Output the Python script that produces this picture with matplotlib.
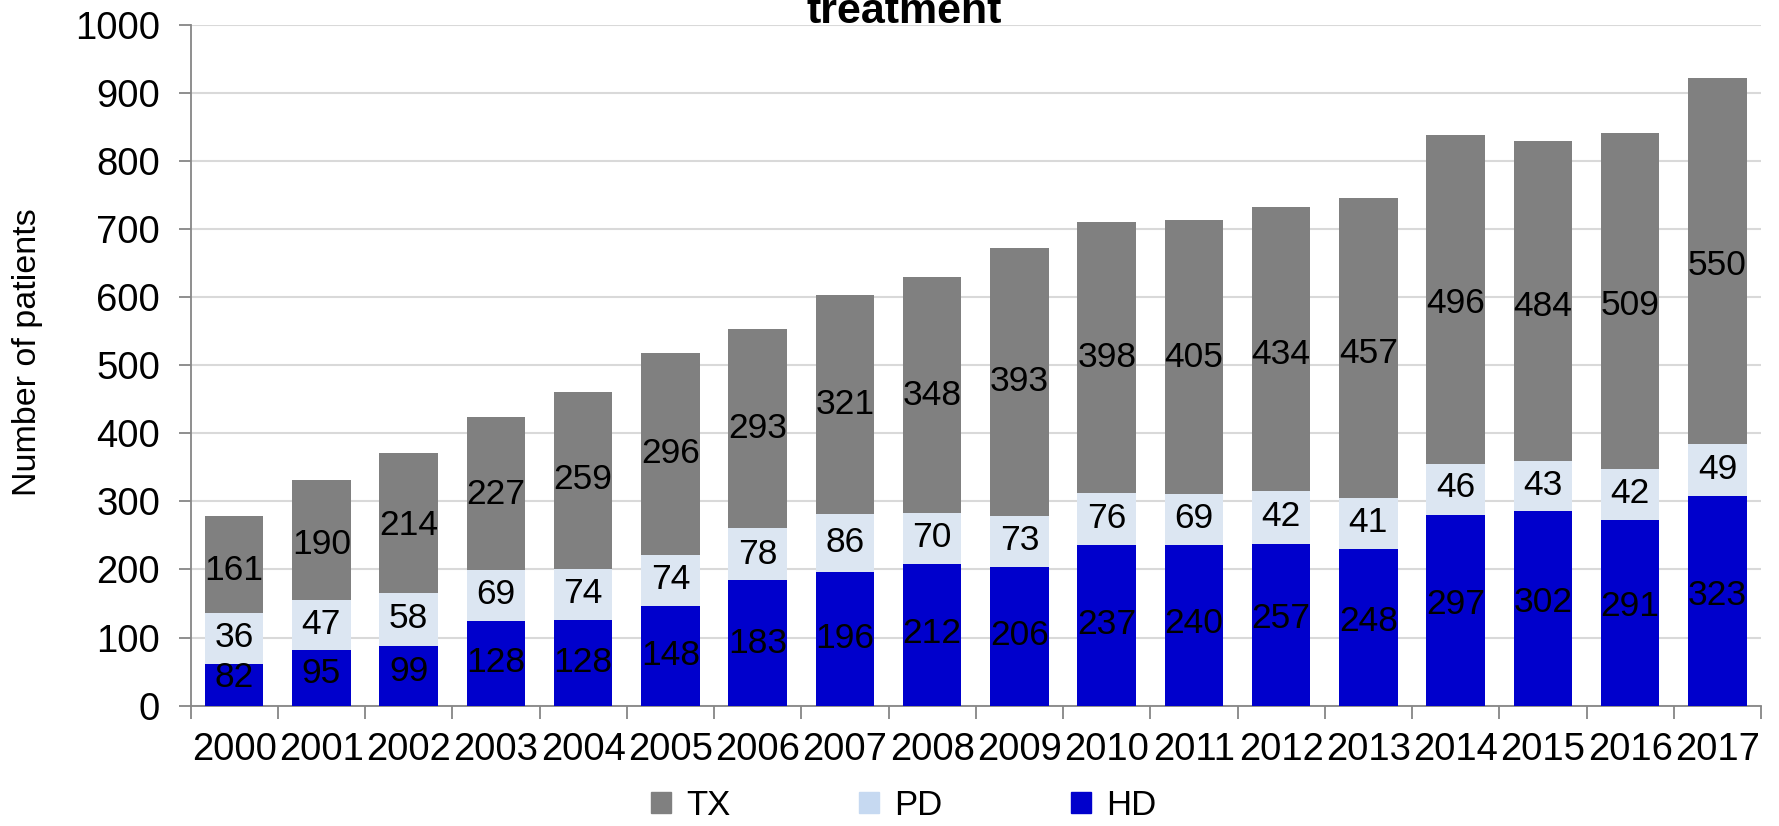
import numpy as np
import matplotlib
matplotlib.use('Agg')
import matplotlib.pyplot as plt
from matplotlib.patches import Patch

plt.rcParams['font.family'] = ['Liberation Sans', 'DejaVu Sans']

years = ['2000', '2001', '2002', '2003', '2004', '2005', '2006', '2007', '2008',
         '2009', '2010', '2011', '2012', '2013', '2014', '2015', '2016', '2017']

# printed values
hd_lab = [82, 95, 99, 128, 128, 148, 183, 196, 212, 206, 237, 240, 257, 248, 297, 302, 291, 323]
pd_lab = [36, 47, 58, 69, 74, 74, 78, 86, 70, 73, 76, 69, 42, 41, 46, 43, 42, 49]
tx_lab = [161, 190, 214, 227, 259, 296, 293, 321, 348, 393, 398, 405, 434, 457, 496, 484, 509, 550]

# segment heights as drawn in the picture (PD segments are drawn with a minimum height)
hd_bar = [61, 81, 88, 124, 126, 146, 184, 196, 208, 203, 236, 235.5, 238, 230, 280.5, 285.5, 273, 308.5]
pd_bar = [74.5, 74, 78, 74.5, 75, 75, 77, 85, 75.5, 75.5, 77, 75.5, 78, 75, 75, 74.5, 75, 75.5]
tx_bar = [143.5, 177, 205, 225.5, 260, 297, 293, 322, 346.5, 393.5, 398, 403, 417, 441, 483.5, 469, 494, 538]

c_hd = '#0000CC'
c_pd = '#DCE6F2'
c_tx = '#808080'

fig = plt.figure(figsize=(17.79, 8.26), dpi=100)
ax = fig.add_axes([0.1071, 0.1458, 0.8828, 0.8239])

x = np.arange(len(years))
w = 0.67
hd_bar = np.array(hd_bar)
pd_bar = np.array(pd_bar)
tx_bar = np.array(tx_bar)
ax.bar(x, hd_bar, w, color=c_hd, zorder=3)
ax.bar(x, pd_bar, w, bottom=hd_bar, color=c_pd, zorder=3)
ax.bar(x, tx_bar, w, bottom=hd_bar + pd_bar, color=c_tx, zorder=3)

# labels sit at the middle of the true-value segments
hd_l = np.array(hd_lab)
pd_l = np.array(pd_lab)
tx_l = np.array(tx_lab)
for i in range(len(years)):
    ax.text(x[i], hd_l[i] / 2, str(hd_l[i]), ha='center', va='center', fontsize=25.5, zorder=4)
    ax.text(x[i], hd_l[i] + pd_l[i] / 2, str(pd_l[i]), ha='center', va='center', fontsize=25.5, zorder=4)
    ax.text(x[i], hd_l[i] + pd_l[i] + tx_l[i] / 2, str(tx_l[i]), ha='center', va='center', fontsize=25.5, zorder=4)

ax.set_xlim(-0.5, len(years) - 0.5)
ax.set_ylim(0, 1000)
ax.set_yticks(np.arange(0, 1001, 100))
ax.yaxis.grid(True, color='#D9D9D9', linewidth=1.5, zorder=0)
ax.set_axisbelow(True)

ax.set_xticks(np.arange(-0.5, len(years), 1.0))
ax.set_xticklabels([])
ax.set_xticks(x, minor=True)
ax.set_xticklabels(years, minor=True)
ax.tick_params(axis='x', which='major', length=9, color='#868686', width=1.3)
ax.tick_params(axis='x', which='minor', length=0, pad=19, labelsize=27.5)
ax.tick_params(axis='y', length=9, color='#868686', width=1.3, pad=13, labelsize=27.5)

for s in ['top', 'right']:
    ax.spines[s].set_visible(False)
for s in ['left', 'bottom']:
    ax.spines[s].set_color('#868686')
    ax.spines[s].set_linewidth(1.3)

fig.text(0.0157, 0.574, 'Number of patients', rotation=90, ha='center', va='center', fontsize=24.5)
fig.text(0.508, 0.9725, 'treatment', ha='center', va='baseline', fontsize=31, fontweight='bold')

handles = [Patch(color=c_tx, label='TX'), Patch(color='#C6D9F1', label='PD'), Patch(color=c_hd, label='HD')]
fig.legend(handles=handles, loc='center', bbox_to_anchor=(0.508, 0.025), ncol=3, frameon=False,
           fontsize=25, handlelength=0.57, handleheight=0.57, columnspacing=3.7, handletextpad=0.45,
           borderpad=0.1)

fig.savefig('out.png', dpi=100)
